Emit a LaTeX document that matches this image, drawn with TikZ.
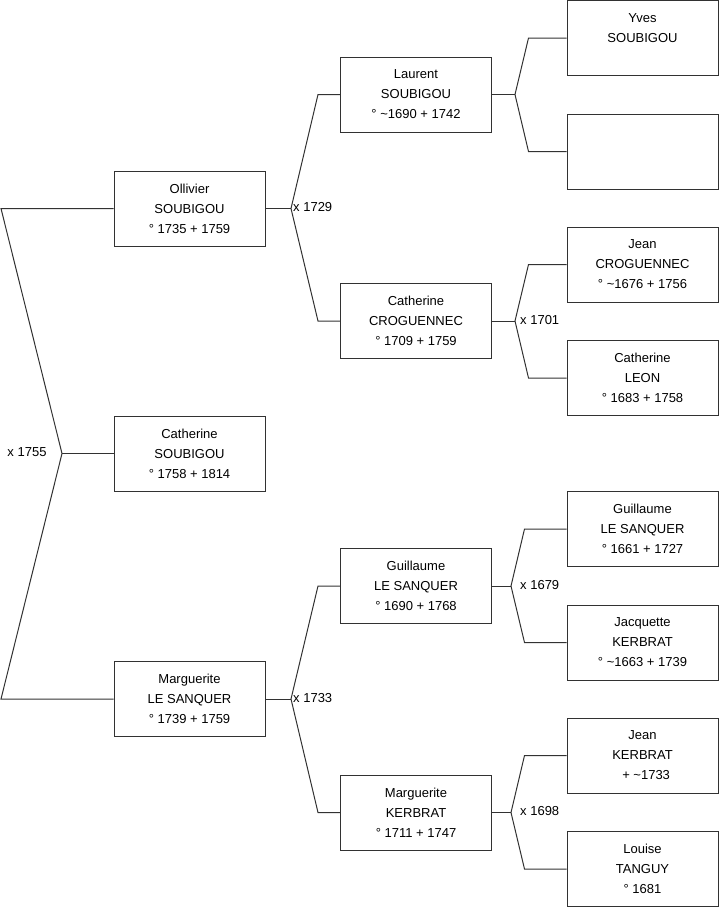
\documentclass[tikz,border=0pt]{standalone}
\usepackage{fontspec}
\setmainfont{Liberation Sans}
\usetikzlibrary{calc}
\definecolor{lineclr}{RGB}{50,50,50}
\begin{document}
\begin{tikzpicture}[x=1pt,y=-1pt,
  person/.style={draw=lineclr,line width=1pt,minimum width=151pt,minimum height=75pt,inner sep=0pt,align=center,font=\fontsize{13}{20}\selectfont},
  marr/.style={font=\fontsize{13}{15}\selectfont,inner sep=0pt},
  conn/.style={draw=lineclr,line width=1pt}]
\useasboundingbox (0,0) rectangle (719,908);
% column 1
\node[person] (oll) at (189.5,208.5) {Ollivier\\SOUBIGOU\\° 1735 + 1759};
\node[person] (cso) at (189.5,453.5) {Catherine\\SOUBIGOU\\° 1758 + 1814};
\node[person] (mls) at (189.5,699) {Marguerite\\LE SANQUER\\° 1739 + 1759};
% column 2
\node[person] (lau) at (416,94.5) {Laurent\\SOUBIGOU\\° \textasciitilde1690 + 1742};
\node[person] (ccr) at (416,321) {Catherine\\CROGUENNEC\\° 1709 + 1759};
\node[person] (gls) at (416,586) {Guillaume\\LE SANQUER\\° 1690 + 1768};
\node[person] (mke) at (416,812.5) {Marguerite\\KERBRAT\\° 1711 + 1747};
% column 3
\node[person] (yve) at (642.5,38) {Yves\\SOUBIGOU\\\mbox{}};
\node[person] (unk) at (642.5,151.5) {};
\node[person] (jcr) at (642.5,264.5) {Jean\\CROGUENNEC\\° \textasciitilde1676 + 1756};
\node[person] (cle) at (642.5,378) {Catherine\\LEON\\° 1683 + 1758};
\node[person] (gl2) at (642.5,529) {Guillaume\\LE SANQUER\\° 1661 + 1727};
\node[person] (jac) at (642.5,642.5) {Jacquette\\KERBRAT\\° \textasciitilde1663 + 1739};
\node[person] (jke) at (642.5,755.5) {Jean\\KERBRAT\\\ \ + \textasciitilde1733};
\node[person] (lou) at (642.5,869) {Louise\\TANGUY\\° 1681};
% junctions
\coordinate (j0) at (62,453.5);
\coordinate (j1) at (291,208.5);
\coordinate (j2) at (291,699);
\coordinate (j3) at (515,94.5);
\coordinate (j4) at (515,321);
\coordinate (j5) at (511,586);
\coordinate (j6) at (511,812.5);
% connectors
\draw[conn] (oll.west) -- (1,208.5) -- (j0) -- (1,699) -- (mls.west);
\draw[conn] (j0) -- (cso.west);
\draw[conn] (oll.east) -- (j1);
\draw[conn] (lau.west) -- ++(-22,0) -- (j1) -- ($(ccr.west)+(-22,0)$) -- (ccr.west);
\draw[conn] (mls.east) -- (j2);
\draw[conn] (gls.west) -- ++(-22,0) -- (j2) -- ($(mke.west)+(-22,0)$) -- (mke.west);
\draw[conn] (lau.east) -- (j3);
\draw[conn] (yve.west) -- ++(-38,0) -- (j3) -- ($(unk.west)+(-38,0)$) -- (unk.west);
\draw[conn] (ccr.east) -- (j4);
\draw[conn] (jcr.west) -- ++(-38,0) -- (j4) -- ($(cle.west)+(-38,0)$) -- (cle.west);
\draw[conn] (gls.east) -- (j5);
\draw[conn] (gl2.west) -- ++(-42,0) -- (j5) -- ($(jac.west)+(-42,0)$) -- (jac.west);
\draw[conn] (mke.east) -- (j6);
\draw[conn] (jke.west) -- ++(-42,0) -- (j6) -- ($(lou.west)+(-42,0)$) -- (lou.west);
% marriage labels
\node[marr] (m0) at (27,452) {x 1755};
\node[marr,anchor=west] (m1) at (293,207) {x 1729};
\node[marr,anchor=west] (m2) at (293,698) {x 1733};
\node[marr,anchor=west] (m4) at (520,320) {x 1701};
\node[marr,anchor=west] (m5) at (520,585) {x 1679};
\node[marr,anchor=west] (m6) at (520,811) {x 1698};
\end{tikzpicture}
\end{document}
